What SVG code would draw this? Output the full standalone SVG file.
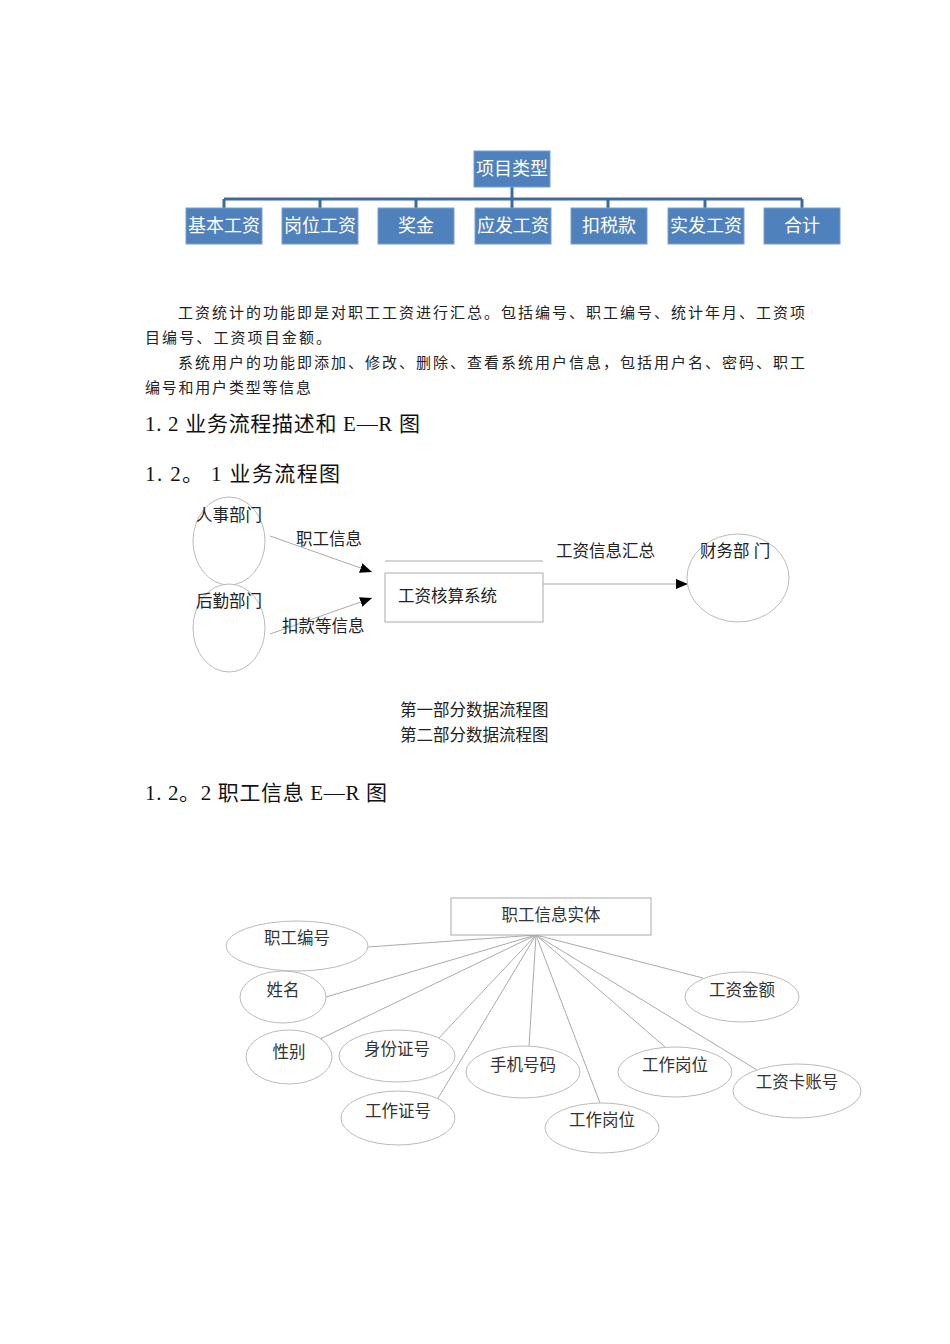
<svg xmlns="http://www.w3.org/2000/svg" width="950" height="1344" viewBox="0 0 950 1344">
<style>
.box{fill:#4F81BD;stroke:#7A9FCF;stroke-width:1}
.bt{font-family:"Noto Sans CJK SC",sans-serif;font-size:18px;fill:#fff;text-anchor:middle}
.para{font-family:"Liberation Serif","Noto Sans CJK SC",serif;font-size:15px;fill:#222}
.head{font-family:"Liberation Serif","Noto Sans CJK SC",serif;font-size:21px;fill:#111}
.lbl{font-family:"Liberation Serif","Noto Sans CJK SC",serif;font-size:16.5px;fill:#222}
.er{font-family:"Liberation Serif","Noto Sans CJK SC",serif;font-size:16.5px;fill:#333;text-anchor:middle}
.ell{fill:#fff;stroke:#bbb;stroke-width:1}
.ln{stroke:#aaa;stroke-width:1;fill:none}
.org{stroke:#3E6A9F;stroke-width:3;fill:none}
</style>
<defs>
<marker id="ah" markerWidth="12" markerHeight="10" refX="12" refY="5" orient="auto" markerUnits="userSpaceOnUse">
<path d="M0,0 L12,5 L0,10 Z" fill="#000"/>
</marker>
</defs>

<g id="org-connectors">
<path class="org" d="M512,187 V199 M224,199 H802 M224,199 V208 M320,199 V208 M416,199 V208 M512,199 V208 M608,199 V208 M705,199 V208 M802,199 V208"/>
</g>
<g id="org-root"><rect class="box" x="474" y="151" width="76" height="36"/><text class="bt" x="512" y="175">项目类型</text></g>
<g id="org-1"><rect class="box" x="186" y="208" width="76" height="36"/><text class="bt" x="224" y="232">基本工资</text></g>
<g id="org-2"><rect class="box" x="282" y="208" width="76" height="36"/><text class="bt" x="320" y="232">岗位工资</text></g>
<g id="org-3"><rect class="box" x="378" y="208" width="76" height="36"/><text class="bt" x="416" y="232">奖金</text></g>
<g id="org-4"><rect class="box" x="475" y="208" width="76" height="36"/><text class="bt" x="513" y="232">应发工资</text></g>
<g id="org-5"><rect class="box" x="571" y="208" width="76" height="36"/><text class="bt" x="609" y="232">扣税款</text></g>
<g id="org-6"><rect class="box" x="668" y="208" width="76" height="36"/><text class="bt" x="706" y="232">实发工资</text></g>
<g id="org-7"><rect class="box" x="764" y="208" width="76" height="36"/><text class="bt" x="802" y="232">合计</text></g>

<g id="paragraphs">
<text class="para" x="178" y="318" textLength="627" lengthAdjust="spacing">工资统计的功能即是对职工工资进行汇总。包括编号、职工编号、统计年月、工资项</text>
<text class="para" x="145" y="343" textLength="186" lengthAdjust="spacing">目编号、工资项目金额。</text>
<text class="para" x="178" y="368" textLength="627" lengthAdjust="spacing">系统用户的功能即添加、修改、删除、查看系统用户信息，包括用户名、密码、职工</text>
<text class="para" x="145" y="393" textLength="166" lengthAdjust="spacing">编号和用户类型等信息</text>
</g>

<g id="headings">
<text class="head" x="145" y="431" textLength="275" lengthAdjust="spacing">1. 2 业务流程描述和 E—R 图</text>
<text class="head" x="145" y="481" textLength="195" lengthAdjust="spacing">1. 2。 1 业务流程图</text>
<text class="head" x="145" y="800" textLength="242" lengthAdjust="spacing">1. 2。2 职工信息 E—R 图</text>
</g>

<g id="flow-connectors">
<line x1="270" y1="536" x2="372" y2="572" stroke="#aaa" stroke-width="1" marker-end="url(#ah)"/>
<line x1="270" y1="634" x2="372" y2="598" stroke="#aaa" stroke-width="1" marker-end="url(#ah)"/>
<line x1="543" y1="584" x2="688" y2="584" stroke="#aaa" stroke-width="1" marker-end="url(#ah)"/>
<text class="lbl" x="296" y="545">职工信息</text>
<text class="lbl" x="282" y="632">扣款等信息</text>
<text class="lbl" x="556" y="557">工资信息汇总</text>
</g>
<g id="flow-hr"><ellipse class="ell" cx="229" cy="541" rx="36" ry="44"/><text class="lbl" x="196" y="521">人事部门</text></g>
<g id="flow-logistics"><ellipse class="ell" cx="229" cy="628" rx="36" ry="44"/><text class="lbl" x="196" y="607">后勤部门</text></g>
<g id="flow-system">
<line x1="385" y1="561" x2="543" y2="561" stroke="#aaa" stroke-width="1"/>
<rect x="385" y="573" width="158" height="49" fill="none" stroke="#aaa" stroke-width="1"/>
<text class="lbl" x="398" y="602">工资核算系统</text>
</g>
<g id="flow-finance"><ellipse class="ell" cx="738" cy="578" rx="51" ry="44"/><text class="lbl" x="700" y="557" xml:space="preserve">财务部 门</text></g>

<g id="captions">
<text class="lbl" x="400" y="716">第一部分数据流程图</text>
<text class="lbl" x="400" y="741">第二部分数据流程图</text>
</g>

<g id="er-connectors">
<path class="ln" d="M368,947 L536,935 M326,997 L536,935 M318,1040 L536,935 M437,1040 L536,935 M437,1100 L536,935 M529,1046 L536,935 M600,1103 L536,935 M665,1047 L536,935 M757,1070 L536,935 M703,978 L536,935"/>
</g>
<g id="er-entity"><rect x="451" y="898" width="200" height="37" fill="#fff" stroke="#aaa" stroke-width="1"/><text class="er" x="551" y="921">职工信息实体</text></g>
<g id="er-a1"><ellipse class="ell" cx="297" cy="946" rx="71" ry="25"/><text class="er" x="297" y="944">职工编号</text></g>
<g id="er-a2"><ellipse class="ell" cx="283" cy="997" rx="43" ry="26"/><text class="er" x="283" y="996">姓名</text></g>
<g id="er-a3"><ellipse class="ell" cx="289" cy="1057" rx="43" ry="27"/><text class="er" x="289" y="1058">性别</text></g>
<g id="er-a4"><ellipse class="ell" cx="397" cy="1056" rx="58" ry="26"/><text class="er" x="397" y="1055">身份证号</text></g>
<g id="er-a5"><ellipse class="ell" cx="398" cy="1118" rx="57" ry="27"/><text class="er" x="398" y="1117">工作证号</text></g>
<g id="er-a6"><ellipse class="ell" cx="523" cy="1072" rx="57" ry="26"/><text class="er" x="523" y="1071">手机号码</text></g>
<g id="er-a7"><ellipse class="ell" cx="602" cy="1128" rx="57" ry="25"/><text class="er" x="602" y="1126">工作岗位</text></g>
<g id="er-a8"><ellipse class="ell" cx="675" cy="1072" rx="57" ry="25"/><text class="er" x="675" y="1071">工作岗位</text></g>
<g id="er-a9"><ellipse class="ell" cx="797" cy="1091" rx="64" ry="27"/><text class="er" x="797" y="1088">工资卡账号</text></g>
<g id="er-a10"><ellipse class="ell" cx="742" cy="997" rx="57" ry="25"/><text class="er" x="742" y="996">工资金额</text></g>
</svg>
